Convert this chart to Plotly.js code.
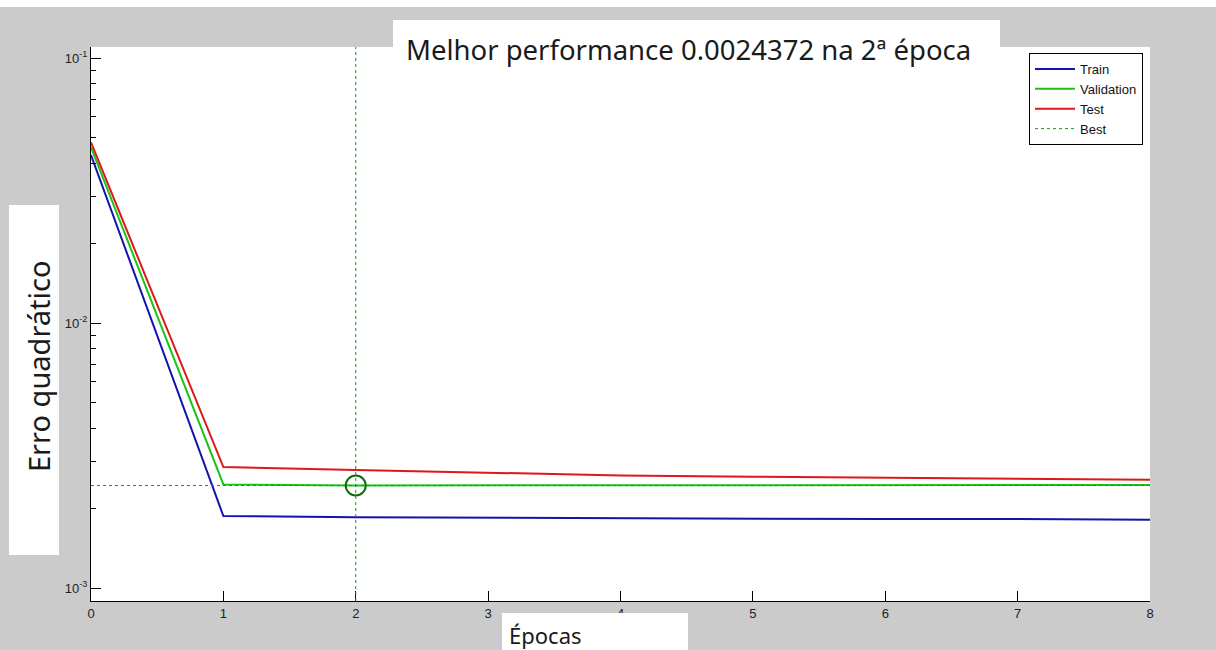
<!DOCTYPE html>
<html>
<head>
<meta charset="utf-8">
<script src="https://cdn.plot.ly/plotly-3.0.1.min.js"></script>
<style>
html,body{margin:0;padding:0;background:#cbcbcb;}
#chart{width:1216px;height:650px;}
</style>
</head>
<body>
<div id="chart"></div>
<script>
// ---- data ----
const epochs = [0, 1, 2, 3, 4, 5, 6, 7, 8];
const trainPerf = [0.043, 0.00187, 0.00185, 0.00184, 0.00183, 0.00183, 0.00182, 0.00182, 0.00181];
const valPerf = [0.046, 0.00246, 0.0024372, 0.002439, 0.002442, 0.002445, 0.002447, 0.002449, 0.00245];
const testPerf = [0.048, 0.00286, 0.00279, 0.00273, 0.00266, 0.00263, 0.00261, 0.00259, 0.00256];
const bestEpoch = 2;
const bestPerf = 0.0024372;
const seriesNames = ['Train', 'Validation', 'Test', 'Best'];
const yTickVals = [0.001, 0.01, 0.1];
const yTickText = ['10<sup>-3</sup>', '10<sup>-2</sup>', '10<sup>-1</sup>'];
const xTickVals = [0, 1, 2, 3, 4, 5, 6, 7, 8];
const titleText = 'Melhor performance 0.0024372 na 2ª época';
const xLabel = 'Épocas';
const yLabel = 'Erro quadrático';

// ---- layout geometry (pixels) ----
const W = 1216, H = 650;
const L = 91, R = 1150, T = 47, B = 601;
const px = x => (x - L) / (R - L);
const py = y => (B - y) / (B - T);

const minorVals = [];
[0.001, 0.01, 0.1].forEach(d => { for (let k = 2; k <= 9; k++) minorVals.push(d * k); });

const colors = {train: '#1414aa', val: '#18c418', test: '#dc1818', best: '#1f8f1f'};

const traces = [
  {x: epochs, y: trainPerf, name: seriesNames[0], mode: 'lines', line: {color: colors.train, width: 2}},
  {x: epochs, y: valPerf, name: seriesNames[1], mode: 'lines', line: {color: colors.val, width: 2}},
  {x: epochs, y: testPerf, name: seriesNames[2], mode: 'lines', line: {color: colors.test, width: 2}},
  {x: [epochs[0], epochs[epochs.length - 1]], y: [bestPerf, bestPerf], name: seriesNames[3], mode: 'lines',
   line: {color: colors.best, width: 1, dash: 'dot'}},
  {x: [bestEpoch], y: [bestPerf], mode: 'markers', showlegend: false,
   marker: {symbol: 'circle-open', size: 20, color: '#0f6e0f', line: {width: 2, color: '#0f6e0f'}}}
];

const layout = {
  width: W, height: H,
  paper_bgcolor: '#cbcbcb',
  plot_bgcolor: '#ffffff',
  margin: {l: L, r: W - R, t: T, b: H - B, pad: 0},
  font: {family: 'Liberation Sans, Arial, sans-serif', size: 12, color: '#222'},
  showlegend: true,
  legend: {
    x: px(1029), y: py(53), xanchor: 'left', yanchor: 'top',
    bgcolor: '#ffffff', bordercolor: '#000', borderwidth: 1,
    font: {family: 'Liberation Sans, Arial, sans-serif', size: 13, color: '#111'},
    tracegroupgap: 0, itemwidth: 40
  },
  xaxis: {
    range: [0, 8], tickvals: xTickVals, ticks: 'inside', ticklen: 10, tickcolor: '#000',
    showline: true, linecolor: '#000', linewidth: 1, showgrid: false, zeroline: false,
    tickfont: {size: 13, color: '#222'}
  },
  yaxis: {
    type: 'log', range: [-3.049, -0.9585], tickvals: yTickVals, ticktext: yTickText,
    ticks: 'inside', ticklen: 10, tickcolor: '#000',
    minor: {tickvals: minorVals, ticks: 'inside', ticklen: 5, tickcolor: '#000', showgrid: false},
    showline: true, linecolor: '#000', linewidth: 1, showgrid: false, zeroline: false,
    tickfont: {size: 13, color: '#222'}
  },
  shapes: [
    {type: 'rect', xref: 'paper', yref: 'paper', x0: px(0), x1: px(W), y0: py(7), y1: py(0),
     fillcolor: '#ffffff', line: {width: 0}, layer: 'above'},
    {type: 'rect', xref: 'paper', yref: 'paper', x0: px(393), x1: px(1000), y0: py(47), y1: py(20),
     fillcolor: '#ffffff', line: {width: 0}, layer: 'above'},
    {type: 'rect', xref: 'paper', yref: 'paper', x0: px(502), x1: px(688), y0: py(650), y1: py(613),
     fillcolor: '#ffffff', line: {width: 0}, layer: 'above'},
    {type: 'rect', xref: 'paper', yref: 'paper', x0: px(9), x1: px(59), y0: py(555), y1: py(205),
     fillcolor: '#ffffff', line: {width: 0}, layer: 'above'},
    {type: 'line', xref: 'x', yref: 'paper', x0: bestEpoch, x1: bestEpoch, y0: 0, y1: 1,
     line: {color: colors.best, width: 1, dash: 'dot'}, layer: 'above'}
  ],
  annotations: [
    {text: titleText, xref: 'paper', yref: 'paper', x: px(688), y: py(50), xanchor: 'center', yanchor: 'middle',
     showarrow: false, font: {family: 'Noto Sans, sans-serif', size: 27.5, color: '#1a1a1a'}},
    {text: xLabel, xref: 'paper', yref: 'paper', x: px(507), y: py(635), xanchor: 'left', yanchor: 'middle',
     showarrow: false, font: {family: 'Noto Sans, sans-serif', size: 22, color: '#1a1a1a'}},
    {text: yLabel, xref: 'paper', yref: 'paper', x: px(38), y: py(366), xanchor: 'center', yanchor: 'middle',
     textangle: -90, showarrow: false, font: {family: 'Noto Sans, sans-serif', size: 29, color: '#1a1a1a'}}
  ]
};

Plotly.newPlot('chart', traces, layout, {displayModeBar: false, staticPlot: true});
</script>
</body>
</html>
